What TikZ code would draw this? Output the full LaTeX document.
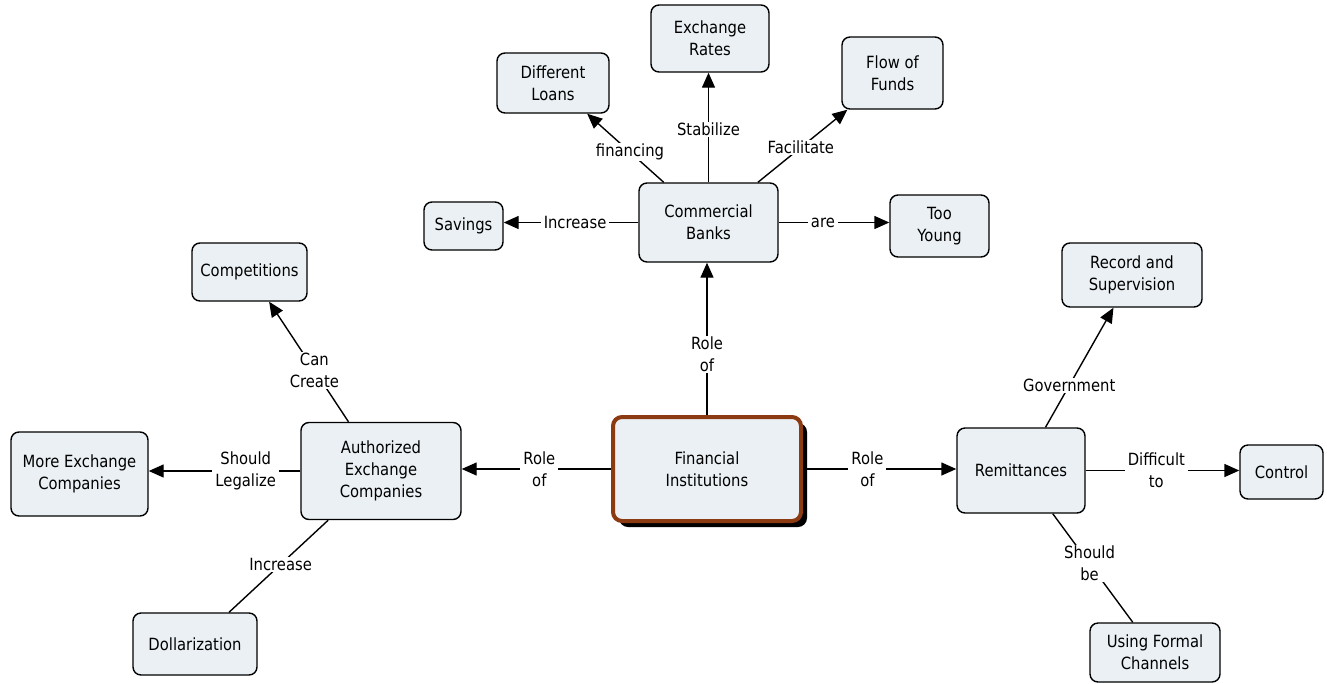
\documentclass[tikz,border=0pt]{standalone}
\usepackage{fontspec}
\setmainfont{DejaVu Sans}[FakeStretch=0.88]
\usetikzlibrary{arrows.meta,shadows}
\definecolor{boxfill}{RGB}{234,240,243}
\definecolor{fibrown}{RGB}{140,58,18}
\begin{document}
\begin{tikzpicture}[x=1pt,y=-1pt,
  txt/.style={font=\fontsize{16.8}{22}\selectfont, text=black, align=center},
  box/.style={txt, draw=black, line width=1.4pt, rounded corners=8pt, fill=boxfill, inner sep=0pt},
  fibox/.style={txt, draw=fibrown, line width=4pt, rounded corners=9pt, fill=boxfill, inner sep=0pt,
    drop shadow={shadow xshift=6pt, shadow yshift=-6pt, fill=black, opacity=1}},
  lbl/.style={txt, fill=white, inner xsep=3pt, inner ysep=1pt},
  link/.style={draw=black, line width=1.4pt},
  arr/.style={link, -{Triangle[length=15pt,width=13pt]}}
]
\useasboundingbox[fill=white] (0,0) rectangle (1327,683);

% nodes
\node[box, minimum width=118pt, minimum height=67pt] (er)  at (710,38.5)   {Exchange\\Rates};
\node[box, minimum width=112pt, minimum height=60pt] (dl)  at (553,83)     {Different\\Loans};
\node[box, minimum width=101pt, minimum height=72pt] (ff)  at (892.5,73)   {Flow of\\Funds};
\node[box, minimum width=139pt, minimum height=79pt] (cb)  at (708.5,222.5){Commercial\\Banks};
\node[box, minimum width=79pt,  minimum height=48pt] (sav) at (463.5,226)  {Savings};
\node[box, minimum width=99pt,  minimum height=62pt] (ty)  at (939.5,226)  {Too\\Young};
\node[box, minimum width=115pt, minimum height=58pt] (comp) at (249.5,272) {Competitions};
\node[box, minimum width=140pt, minimum height=64pt] (rs)  at (1132,275)   {Record and\\Supervision};
\node[fibox, minimum width=188pt, minimum height=104pt] (fi) at (707,469)  {Financial\\Institutions};
\node[box, minimum width=160pt, minimum height=97pt] (aec) at (381,471)    {Authorized\\Exchange\\Companies};
\node[box, minimum width=137pt, minimum height=84pt] (mec) at (79.5,474)   {More Exchange\\Companies};
\node[box, minimum width=128pt, minimum height=85pt] (rem) at (1021,470.5) {Remittances};
\node[box, minimum width=83pt,  minimum height=54pt] (ctl) at (1281.5,472) {Control};
\node[box, minimum width=124pt, minimum height=62pt] (dol) at (195,644)    {Dollarization};
\node[box, minimum width=130pt, minimum height=59pt] (ufc) at (1155,652.5) {Using Formal\\Channels};

% connectors
\draw[arr] (fi.north) -- (fi.north |- cb.south) node[lbl,pos=0.4] {Role\\of};
\draw[arr] (fi.west) -- (fi.west -| aec.east) node[lbl,pos=0.48] {Role\\of};
\draw[arr] (fi.east) -- (fi.east -| rem.west) node[lbl,pos=0.42] {Role\\of};

\draw[arr] (cb.west) -- (cb.west -| sav.east) node[lbl,pos=0.47] {Increase};
\draw[arr] (cb.east) -- (cb.east -| ty.west) node[lbl,pos=0.4] {are};
\draw[arr] (cb.north) -- (cb.north |- er.south) node[lbl,pos=0.48] {Stabilize};
\draw[arr] (cb) -- (dl) node[lbl,pos=0.44] {financing};
\draw[arr] (cb) -- (ff) node[lbl,pos=0.48] {Facilitate};

\draw[arr] (aec) -- (comp) node[lbl,pos=0.43] {Can\\Create};
\draw[arr] (aec.west) -- (aec.west -| mec.east) node[lbl,pos=0.36] {Should\\Legalize};
\draw[link] (aec) -- (dol) node[lbl,pos=0.48] {Increase};

\draw[arr] (rem) -- (rs) node[lbl,pos=0.35] {Government};
\draw[arr] (rem.east) -- (rem.east -| ctl.west) node[lbl,pos=0.46] {Difficult\\to};
\draw[link] (rem) -- (ufc) node[lbl,pos=0.46] {Should\\be};
\end{tikzpicture}
\end{document}
